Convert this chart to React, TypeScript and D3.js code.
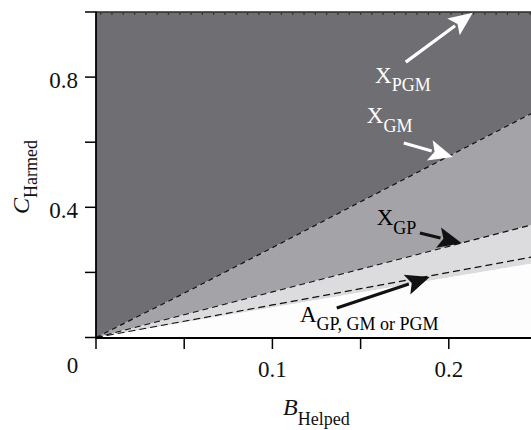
import React from "react";
import * as d3 from "d3";

// Boundary curves (B_Helped grid -> C_Harmed values)
const B_GRID = [0, 0.05, 0.1, 0.15, 0.2, 0.25];
const C_GM = [0, 0.136, 0.276, 0.417, 0.557, 0.697];
const C_GP = [0, 0.07, 0.14, 0.21, 0.28, 0.35];
const C_A = [0, 0.05, 0.1, 0.15, 0.2, 0.25];
const C_WHITE = [0, 0.046, 0.092, 0.138, 0.184, 0.23];
const C_TOP = 1;

const X_TICKS = [0, 0.05, 0.1, 0.15, 0.2, 0.25];
const X_TICK_LABELS = ["", "", "0.1", "", "0.2", ""];
const Y_TICKS = [0, 0.2, 0.4, 0.6, 0.8, 1.0];
const Y_TICK_LABELS = ["", "", "0.4", "", "0.8", ""];

// Annotations (data coordinates)
const LABELS = [
  { main: "X", sub: "PGM", B: 0.1582, C: 0.782, color: "#ffffff" },
  { main: "X", sub: "GM", B: 0.1535, C: 0.658, color: "#ffffff" },
  { main: "X", sub: "GP", B: 0.1591, C: 0.3456, color: "#000000" },
  { main: "A", sub: "GP, GM or PGM", B: 0.1156, C: 0.0485, color: "#000000" },
];
const ARROWS = [
  { B0: 0.1756, C0: 0.846, B1: 0.2136, C1: 0.998, color: "#ffffff" },
  { B0: 0.1745, C0: 0.5975, B1: 0.2023, C1: 0.5545, color: "#ffffff" },
  { B0: 0.1836, C0: 0.321, B1: 0.2074, C1: 0.2894, color: "#111111" },
  { B0: 0.1365, C0: 0.0906, B1: 0.1892, C1: 0.1859, color: "#111111" },
];

const W = 531;
const H = 430;
const TS: React.CSSProperties = { fontFamily: "Liberation Serif" };

export default function App() {
  const x = d3.scaleLinear().domain([0, 0.25]).range([96, 537]);
  const y = d3.scaleLinear().domain([0, 1]).range([337.5, 12]);
  const idx = B_GRID.map((_, i) => i);

  const area = (lo: (i: number) => number, hi: (i: number) => number) =>
    d3
      .area<number>()
      .x((i) => x(B_GRID[i]))
      .y0((i) => y(lo(i)))
      .y1((i) => y(hi(i)))(idx) || "";

  const line = (vals: number[]) =>
    d3
      .line<number>()
      .x((i) => x(B_GRID[i]))
      .y((i) => y(vals[i]))(idx) || "";

  const x0 = x(0);
  const y0 = y(0);
  const yTop = y(C_TOP);

  const arrow = (a: (typeof ARROWS)[number], k: number) => {
    const sx = x(a.B0), sy = y(a.C0), tx = x(a.B1), ty = y(a.C1);
    const dx = tx - sx, dy = ty - sy;
    const len = Math.hypot(dx, dy);
    const ux = dx / len, uy = dy / len;
    const hl = 24, hw = 10.5;
    const bx = tx - ux * hl, by = ty - uy * hl;
    const px = -uy, py = ux;
    return (
      <g key={k}>
        <line x1={sx} y1={sy} x2={bx + ux * 2} y2={by + uy * 2} stroke={a.color} strokeWidth={3.2} />
        <polygon
          points={`${tx},${ty} ${bx + px * hw},${by + py * hw} ${bx + ux * 5},${by + uy * 5} ${bx - px * hw},${by - py * hw}`}
          fill={a.color}
        />
      </g>
    );
  };

  return (
    <svg
      width={W}
      height={H}
      style={{ position: "absolute", left: 0, top: 0, background: "#ffffff" }}
    >
      {/* regions */}
      <path d={area((i) => C_GM[i], () => C_TOP)} fill="#6f6f73" />
      <path d={area((i) => C_GP[i], (i) => C_GM[i])} fill="#a4a4a8" />
      <path d={area((i) => C_WHITE[i], (i) => C_GP[i])} fill="#dcdcde" />
      <path d={area(() => 0, (i) => C_WHITE[i])} fill="#fdfdfd" />

      {/* boundary lines */}
      <path d={line(C_GM)} fill="none" stroke="#111" strokeWidth={1.2} strokeDasharray="5,4" />
      <path d={line(C_GP)} fill="none" stroke="#111" strokeWidth={1.2} strokeDasharray="6,4" />
      <path d={line(C_A)} fill="none" stroke="#111" strokeWidth={1.2} strokeDasharray="7,4" />
      <line x1={x0} x2={W} y1={yTop} y2={yTop} stroke="#2a2a2a" strokeWidth={1.3} />
      <line x1={x0 + 4} x2={W} y1={yTop + 1.8} y2={yTop + 1.8} stroke="#111" strokeWidth={1.3} strokeDasharray="1.3,10" />

      {/* axes */}
      <line x1={x0} x2={x0} y1={yTop - 0.5} y2={y0 + 1} stroke="#000" strokeWidth={1.8} />
      <line x1={x0} x2={W} y1={y0 + 0.5} y2={y0 + 0.5} stroke="#000" strokeWidth={2} />
      {Y_TICKS.map((t, i) => (
        <g key={"yt" + i}>
          <line x1={x0 - 11} x2={x0} y1={y(t)} y2={y(t)} stroke="#000" strokeWidth={1.5} />
          {Y_TICK_LABELS[i] && (
            <text x={x0 - 18} y={y(t) + 10.5} fontSize={23} textAnchor="end" fill="#111" style={TS}>
              {Y_TICK_LABELS[i]}
            </text>
          )}
        </g>
      ))}
      {X_TICKS.map((t, i) => (
        <g key={"xt" + i}>
          <line x1={x(t)} x2={x(t)} y1={y0} y2={y0 + 11.5} stroke="#000" strokeWidth={1.5} />
          {X_TICK_LABELS[i] && (
            <text x={x(t)} y={y0 + 39.5} fontSize={23} textAnchor="middle" fill="#111" style={TS}>
              {X_TICK_LABELS[i]}
            </text>
          )}
        </g>
      ))}
      <text x={x0 - 23.5} y={y0 + 35.5} fontSize={23} textAnchor="middle" fill="#111" style={TS}>
        0
      </text>

      {/* axis titles */}
      <text x={283} y={415} fontSize={24} fill="#111" style={TS}>
        <tspan fontStyle="italic">B</tspan>
        <tspan fontSize={18} dy={10}>Helped</tspan>
      </text>
      <text transform="translate(29,214) rotate(-90)" fontSize={24} fill="#111" style={TS}>
        <tspan fontStyle="italic">C</tspan>
        <tspan fontSize={18} dy={8}>Harmed</tspan>
      </text>

      {/* annotations */}
      {ARROWS.map(arrow)}
      {LABELS.map((l, i) => (
        <text key={"l" + i} x={x(l.B)} y={y(l.C)} fontSize={23} fill={l.color} style={TS}>
          {l.main}
          <tspan fontSize={18} dy={8.5}>{l.sub}</tspan>
        </text>
      ))}
    </svg>
  );
}
